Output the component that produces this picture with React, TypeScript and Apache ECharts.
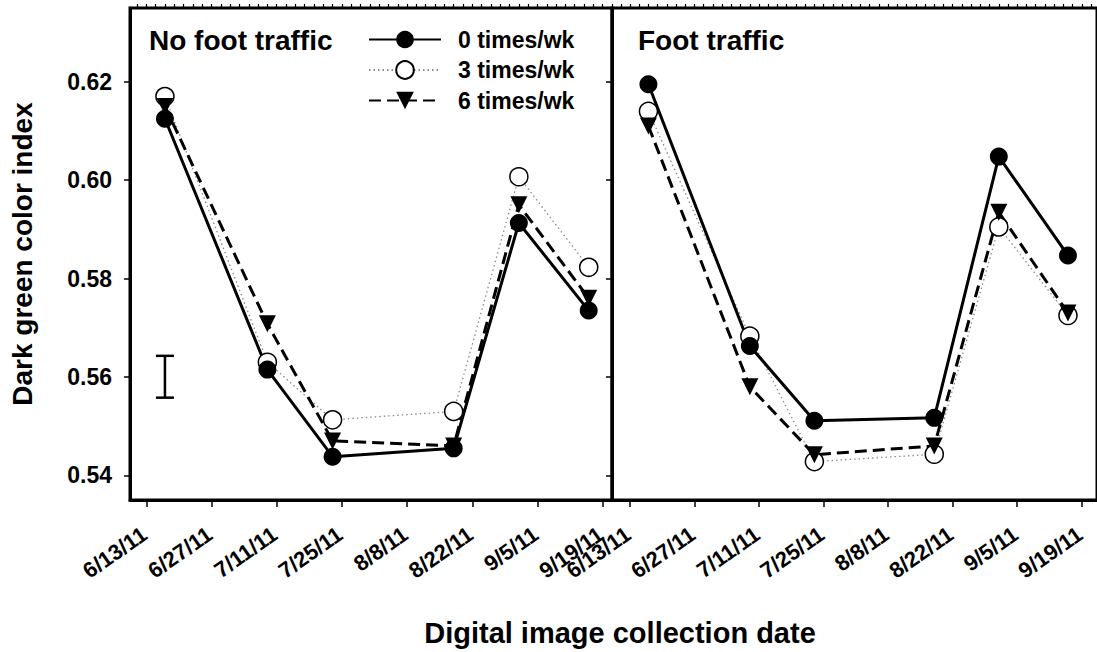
import { useEffect, useRef } from "react";
import * as echarts from "echarts";

// Sampling dates and axis tick dates (m/d/yy)
const sampleDates = ["6/17/11", "7/9/11", "7/23/11", "8/18/11", "9/1/11", "9/16/11"];
const tickDates = ["6/13/11", "6/27/11", "7/11/11", "7/25/11", "8/8/11", "8/22/11", "9/5/11", "9/19/11"];
const yTicks = [0.54, 0.56, 0.58, 0.6, 0.62];

const treatments = ["0 times/wk", "3 times/wk", "6 times/wk"];
const panelTitles = ["No foot traffic", "Foot traffic"];

// Dark green color index, no foot traffic
const noTraffic0 = [0.6125, 0.5615, 0.5438, 0.5455, 0.5913, 0.5735];
const noTraffic3 = [0.617, 0.563, 0.5513, 0.553, 0.6007, 0.5823];
const noTraffic6 = [0.615, 0.5708, 0.547, 0.546, 0.595, 0.576];

// Dark green color index, foot traffic
const traffic0 = [0.6195, 0.5663, 0.5511, 0.5517, 0.6048, 0.5847];
const traffic3 = [0.614, 0.5683, 0.5428, 0.5443, 0.5905, 0.5725];
const traffic6 = [0.611, 0.558, 0.5442, 0.546, 0.5935, 0.573];

// Least significant difference bar
const lsdBar = { date: "6/17/11", low: 0.5558, high: 0.5643 };

const FONT = "'Liberation Sans', Arial, sans-serif";
const ORIGIN = Date.UTC(2011, 5, 13);

function dayOf(s: string): number {
  const [m, d, y] = s.split("/").map(Number);
  return Math.round((Date.UTC(2000 + y, m - 1, d) - ORIGIN) / 86400000);
}

const majorDays = tickDates.map(dayOf);
const minorDays: number[] = [];
for (let d = -2; d <= 100; d += 2) minorDays.push(d);
const tickLabelOf: Record<number, string> = {};
tickDates.forEach((t) => (tickLabelOf[dayOf(t)] = t));

const seriesStyle: Record<string, any> = {
  "0 times/wk": {
    symbol: "circle",
    symbolSize: 18,
    itemStyle: { color: "#000" },
    lineStyle: { color: "#000", width: 3, type: "solid" },
  },
  "3 times/wk": {
    symbol: "circle",
    symbolSize: 18,
    itemStyle: { color: "#fff", borderColor: "#000", borderWidth: 1.5 },
    lineStyle: { color: "#8a8a8a", width: 1.3, type: [1.5, 3] },
  },
  "6 times/wk": {
    symbol: "triangle",
    symbolRotate: 180,
    symbolSize: 17,
    itemStyle: { color: "#000" },
    lineStyle: { color: "#000", width: 3, type: [12, 6] },
  },
};

const panels = [
  { "0 times/wk": noTraffic0, "3 times/wk": noTraffic3, "6 times/wk": noTraffic6 },
  { "0 times/wk": traffic0, "3 times/wk": traffic3, "6 times/wk": traffic6 },
];

const grids = [
  { left: 130, top: 8, width: 482, height: 492, xMin: -3.5, xMax: 100 },
  { left: 612, top: 8, width: 490, height: 492, xMin: -3.9, xMax: 101.3 },
];

export default function App() {
  const ref = useRef<HTMLDivElement>(null);

  useEffect(() => {
    document.body.style.margin = "0";
    const chart = echarts.init(ref.current!, null, { renderer: "svg" });

    const xAxis: any[] = [];
    const yAxis: any[] = [];
    grids.forEach((g, i) => {
      xAxis.push({
        type: "value",
        gridIndex: i,
        min: g.xMin,
        max: g.xMax,
        axisLine: { show: true, onZero: false, lineStyle: { color: "#000", width: 3 } },
        axisTick: { show: true, customValues: majorDays, length: 7, lineStyle: { color: "#000", width: 1.5 } },
        axisLabel: {
          customValues: majorDays,
          formatter: (v: number) => tickLabelOf[Math.round(v)] ?? "",
          rotate: 35,
          margin: 17,
          verticalAlign: "top",
          padding: [0, 10, 0, 0],
          color: "#000",
          fontFamily: FONT,
          fontWeight: "bold",
          fontSize: 22,
        },
        splitLine: { show: false },
      });
      xAxis.push({
        type: "value",
        gridIndex: i,
        min: g.xMin,
        max: g.xMax,
        axisLine: { show: false },
        axisTick: { show: true, customValues: minorDays, length: 4, lineStyle: { color: "#000", width: 1.2 } },
        axisLabel: { show: false },
        splitLine: { show: false },
      });
      yAxis.push({
        type: "value",
        gridIndex: i,
        min: 0.535,
        max: 0.635,
        axisLine: { show: true, onZero: false, lineStyle: { color: "#000", width: 3 } },
        axisTick: { show: true, customValues: yTicks, length: 6, lineStyle: { color: "#000", width: 1.5 } },
        axisLabel: {
          show: i === 0,
          customValues: yTicks,
          formatter: (v: number) => v.toFixed(2),
          margin: 18,
          color: "#000",
          fontFamily: FONT,
          fontWeight: "bold",
          fontSize: 23,
        },
        splitLine: { show: false },
        name: i === 0 ? "Dark green color index" : "",
        nameLocation: "middle",
        nameGap: 94,
        nameTextStyle: { color: "#000", fontFamily: FONT, fontWeight: "bold", fontSize: 28 },
      });
    });

    const series: any[] = [];
    // draw order: open circles, triangles, then filled circles on top
    const drawOrder = ["3 times/wk", "6 times/wk", "0 times/wk"];
    panels.forEach((panel: any, i) => {
      drawOrder.forEach((name) => {
        series.push({
          type: "line",
          name,
          xAxisIndex: i * 2,
          yAxisIndex: i,
          data: sampleDates.map((d, k) => [dayOf(d), panel[name][k]]),
          ...seriesStyle[name],
          z: 3,
        });
      });
    });

    series.push({
      type: "custom",
      name: "LSD",
      xAxisIndex: 0,
      yAxisIndex: 0,
      data: [[dayOf(lsdBar.date), lsdBar.low, lsdBar.high]],
      renderItem: (params: any, api: any) => {
        const lo = api.coord([api.value(0), api.value(1)]);
        const hi = api.coord([api.value(0), api.value(2)]);
        const w = 9;
        const style = { stroke: "#000", lineWidth: 2.5 };
        return {
          type: "group",
          children: [
            { type: "line", shape: { x1: lo[0], y1: lo[1], x2: hi[0], y2: hi[1] }, style },
            { type: "line", shape: { x1: lo[0] - w, y1: lo[1], x2: lo[0] + w, y2: lo[1] }, style },
            { type: "line", shape: { x1: hi[0] - w, y1: hi[1], x2: hi[0] + w, y2: hi[1] }, style },
          ],
        };
      },
      encode: { x: 0, y: [1, 2] },
      z: 2,
    });

    chart.setOption({
      animation: false,
      backgroundColor: "#fff",
      grid: grids.map((g) => ({
        left: g.left,
        top: g.top,
        width: g.width,
        height: g.height,
        show: true,
        borderColor: "#000",
        borderWidth: 3,
        backgroundColor: "transparent",
      })),
      xAxis,
      yAxis,
      legend: {
        data: treatments,
        orient: "vertical",
        left: 363,
        top: 23,
        itemWidth: 72,
        itemHeight: 22,
        itemGap: 7.5,
        selectedMode: false,
        textStyle: {
          color: "#000",
          fontFamily: FONT,
          fontWeight: "bold",
          fontSize: 23,
          padding: [0, 0, 0, 12],
        },
      },
      graphic: [
        {
          type: "text",
          x: 149,
          y: 40,
          style: {
            text: panelTitles[0],
            font: `bold 28px ${FONT}`,
            fill: "#000",
            textVerticalAlign: "middle",
          },
        },
        {
          type: "text",
          x: 638,
          y: 40,
          style: {
            text: panelTitles[1],
            font: `bold 28px ${FONT}`,
            fill: "#000",
            textVerticalAlign: "middle",
          },
        },
        {
          type: "text",
          x: 620,
          y: 633,
          style: {
            text: "Digital image collection date",
            font: `bold 29px ${FONT}`,
            fill: "#000",
            textAlign: "center",
            textVerticalAlign: "middle",
          },
        },
      ],
      series,
    });

    return () => chart.dispose();
  }, []);

  return (
    <div
      ref={ref}
      style={{ position: "absolute", left: 0, top: 0, width: 1097, height: 652, background: "#fff" }}
    />
  );
}
